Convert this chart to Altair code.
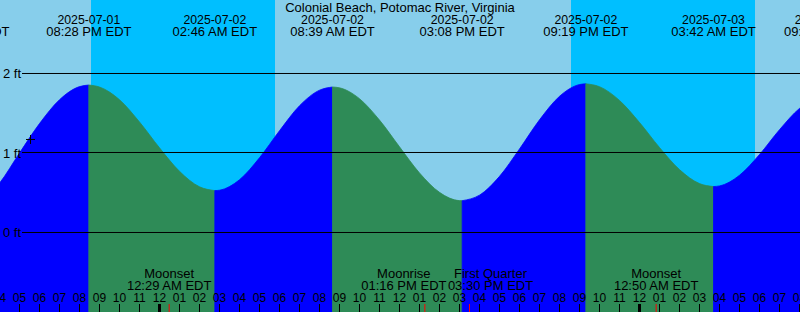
import altair as alt
import pandas as pd

BASE = pd.Timestamp("2025-07-01 00:00")


def hrs(ts):
    return (pd.Timestamp(ts) - BASE).total_seconds() / 3600.0


TITLE = "Colonial Beach, Potomac River, Virginia"
FONT = "Liberation Sans"

# High / low tides (time, level in ft)
extreme_times = ["2025-07-01 14:22", "2025-07-01 20:28", "2025-07-02 02:46",
                 "2025-07-02 08:39", "2025-07-02 15:08", "2025-07-02 21:19",
                 "2025-07-03 03:42", "2025-07-03 09:20"]
extreme_levels = [0.30, 1.855, 0.527, 1.83, 0.40, 1.87, 0.578, 1.72]

# Tide height, hourly
curve_times = [
    "2025-07-01 15:00", "2025-07-01 16:00", "2025-07-01 17:00", "2025-07-01 18:00",
    "2025-07-01 19:00", "2025-07-01 20:00", "2025-07-01 21:00", "2025-07-01 22:00",
    "2025-07-01 23:00", "2025-07-02 00:00", "2025-07-02 01:00", "2025-07-02 02:00",
    "2025-07-02 03:00", "2025-07-02 04:00", "2025-07-02 05:00", "2025-07-02 06:00",
    "2025-07-02 07:00", "2025-07-02 08:00", "2025-07-02 09:00", "2025-07-02 10:00",
    "2025-07-02 11:00", "2025-07-02 12:00", "2025-07-02 13:00", "2025-07-02 14:00",
    "2025-07-02 15:00", "2025-07-02 16:00", "2025-07-02 17:00", "2025-07-02 18:00",
    "2025-07-02 19:00", "2025-07-02 20:00", "2025-07-02 21:00", "2025-07-02 22:00",
    "2025-07-02 23:00", "2025-07-03 00:00", "2025-07-03 01:00", "2025-07-03 02:00",
    "2025-07-03 03:00", "2025-07-03 04:00", "2025-07-03 05:00", "2025-07-03 06:00",
    "2025-07-03 07:00", "2025-07-03 08:00", "2025-07-03 09:00"]
curve_levels = [
    0.36, 0.62, 1.00, 1.37,
    1.67, 1.835, 1.83, 1.67,
    1.39, 1.065, 0.77, 0.575,
    0.532, 0.664, 0.94, 1.28,
    1.594, 1.79, 1.82, 1.683,
    1.414, 1.078, 0.749, 0.505,
    0.401, 0.47, 0.706, 1.051,
    1.417, 1.713, 1.861, 1.834,
    1.661, 1.384, 1.069, 0.791,
    0.615, 0.586, 0.72, 0.981,
    1.293, 1.561, 1.707]

# Sun
sunset_times = ["2025-07-01 20:34:30", "2025-07-02 20:34:30"]
sunrise_times = ["2025-07-02 05:46:30", "2025-07-03 05:46:30"]

# Moon events
moon_names = ["Moonset", "Moonrise", "First Quarter", "Moonset"]
moon_times = ["2025-07-02 00:29", "2025-07-02 13:16", "2025-07-02 15:30", "2025-07-03 00:50"]

# Level grid
grid_levels = [0, 1, 2]
grid_labels = ["0 ft", "1 ft", "2 ft"]

# "+" mark
mark_time = ["2025-07-01 17:33"]
mark_level = [1.17]

# ---------------- layout ----------------
X0, X1 = 16.025, 56.025
YMIN, YMAX = -1.0, 2.9245
W, H = 800, 312

xs = alt.Scale(domain=[X0, X1], nice=False, zero=False)
ys = alt.Scale(domain=[YMIN, YMAX], nice=False, zero=False)


def X(f):
    return alt.X(f, type="quantitative", scale=xs, axis=None)


def Y(f):
    return alt.Y(f, type="quantitative", scale=ys, axis=None)


# tide table built from extremes + curve readings
pts = [(hrs(t), v) for t, v in zip(curve_times, curve_levels)]
ext = [(hrs(t), v) for t, v in zip(extreme_times, extreme_levels)]
rows = []
for i in range(len(ext) - 1):
    (ta, va), (tb, vb) = ext[i], ext[i + 1]
    d = "rising" if vb > va else "falling"
    seg = [(ta, va)] + [p for p in pts if ta < p[0] < tb] + [(tb, vb)]
    for h, v in seg:
        rows.append({"h": h, "level": v, "base": YMIN, "seg": i, "dir": d})
tide_df = pd.DataFrame(rows)

night_df = pd.DataFrame({"start": [hrs(t) for t in sunset_times],
                         "end": [hrs(t) for t in sunrise_times]})

ext_df = pd.DataFrame({
    "h": [hrs(t) for t in extreme_times],
    "date": [pd.Timestamp(t).strftime("%Y-%m-%d") for t in extreme_times],
    "time": [pd.Timestamp(t).strftime("%I:%M %p EDT") for t in extreme_times],
})

moon_df = pd.DataFrame({
    "i": list(range(len(moon_times))),
    "h": [hrs(t) for t in moon_times],
    "name": moon_names,
    "time": [pd.Timestamp(t).strftime("%I:%M %p EDT") for t in moon_times],
})

hours = pd.date_range("2025-07-01 16:00", "2025-07-03 08:00", freq="h")
hour_df = pd.DataFrame({
    "h": [hrs(t) for t in hours],
    "lab": [t.strftime("%I") for t in hours],
    "midnight": [t.hour == 0 for t in hours],
})

grid_df = pd.DataFrame({"level": grid_levels, "lab": grid_labels})
mark_df = pd.DataFrame({"h": [hrs(t) for t in mark_time], "level": mark_level})
title_df = pd.DataFrame({"t": [TITLE]})

cscale = alt.Scale(domain=["rising", "falling"], range=["#0000FF", "#2E8B57"])

night = alt.Chart(night_df).mark_rect(color="#00BFFF").encode(
    x=X("start"), x2=alt.X2("end"), y=alt.value(0), y2=alt.value(H))

tide = alt.Chart(tide_df).mark_area(interpolate="monotone", clip=True, strokeWidth=0.8).encode(
    x=X("h"), y=Y("level"), y2=alt.Y2("base"),
    color=alt.Color("dir:N", scale=cscale, legend=None),
    stroke=alt.Stroke("dir:N", scale=cscale, legend=None),
    detail="seg:N")

grid_a = alt.Chart(grid_df).transform_filter("datum.level != 1").mark_rule(
    color="black", strokeWidth=1).encode(y=Y("level"), x=alt.value(22), x2=alt.value(W))
grid_b = alt.Chart(grid_df).transform_filter("datum.level == 1").mark_rule(
    color="black", strokeWidth=1, yOffset=-0.5).encode(y=Y("level"), x=alt.value(22), x2=alt.value(W))

grid_text = alt.Chart(grid_df).mark_text(
    align="left", baseline="alphabetic", dy=5, font=FONT, fontSize=13, color="black").encode(
    x=alt.value(3), y=Y("level"), text="lab:N")

plus = alt.Chart(mark_df).mark_point(
    shape="M-1,0L1,0M0,-1L0,1", filled=False, stroke="black", strokeWidth=1, size=81, opacity=1).encode(
    x=X("h"), y=Y("level"))

title = alt.Chart(title_df).mark_text(
    align="center", baseline="alphabetic", font=FONT, fontSize=13, color="black").encode(
    x=alt.value(W / 2), y=alt.value(12), text="t:N")

ext_date = alt.Chart(ext_df).mark_text(
    align="center", baseline="alphabetic", font=FONT, fontSize=12.3, color="black").encode(
    x=X("h"), y=alt.value(24), text="date:N")
ext_time = alt.Chart(ext_df).mark_text(
    align="center", baseline="alphabetic", font=FONT, fontSize=13, color="black").encode(
    x=X("h"), y=alt.value(36), text="time:N")

# moon labels: crowded ones are pushed apart horizontally
moon_label_dx = {0: 0, 1: -21, 2: 21, 3: 0}
moon_layers = []
for i, dx in moon_label_dx.items():
    base = alt.Chart(moon_df).transform_filter(f"datum.i == {i}")
    moon_layers.append(base.mark_text(
        align="center", baseline="alphabetic", font=FONT, fontSize=13, color="black", dx=dx).encode(
        x=X("h"), y=alt.value(278), text="name:N"))
    moon_layers.append(base.mark_text(
        align="center", baseline="alphabetic", font=FONT, fontSize=13, color="black", dx=dx).encode(
        x=X("h"), y=alt.value(290), text="time:N"))

hour_ticks = alt.Chart(hour_df).transform_filter("!datum.midnight").mark_rule(
    color="black", strokeWidth=1).encode(x=X("h"), y=alt.value(304), y2=alt.value(H))
mid_ticks = alt.Chart(hour_df).transform_filter("datum.midnight").mark_rule(
    color="black", strokeWidth=3).encode(x=X("h"), y=alt.value(304), y2=alt.value(H))
moon_ticks = alt.Chart(moon_df).mark_rule(color="#FF0000", strokeWidth=1).encode(
    x=X("h"), y=alt.value(304), y2=alt.value(H))
hour_text = alt.Chart(hour_df).mark_text(
    align="center", baseline="alphabetic", font=FONT, fontSize=12, color="black").encode(
    x=X("h"), y=alt.value(302), text="lab:N")

chart = alt.layer(
    night, tide, grid_a, grid_b, grid_text, plus, title, ext_date, ext_time,
    *moon_layers, hour_ticks, mid_ticks, moon_ticks, hour_text
).properties(
    width=W, height=H, padding=0,
    autosize=alt.AutoSizeParams(type="none"),
    background="#87CEEB",
).configure_view(stroke=None, fill="#87CEEB")

chart.save("out.html", embed_options={"renderer": "svg", "actions": False})
